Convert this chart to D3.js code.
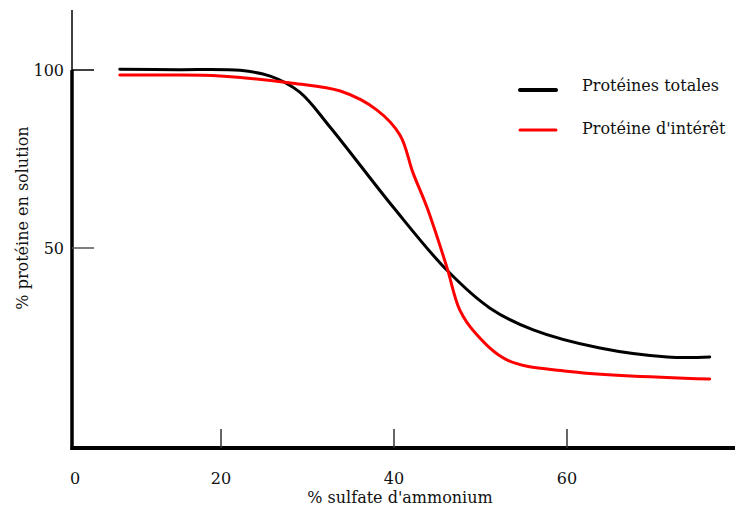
<!DOCTYPE html>
<html>
<head>
<meta charset="utf-8">
<script src="https://cdn.jsdelivr.net/npm/d3@7"></script>
<style>
  body { margin: 0; background: #fff; }
</style>
</head>
<body>
<script>
// data
const total_x = [8.3, 15.0, 22.2, 25.7, 29.1, 32.6, 39.9, 46.1, 51.1, 56.1, 63.8, 71.6, 76.5];
const total_y = [100.2, 100.1, 99.9, 98.3, 93.8, 84.0, 61.5, 43.8, 33.1, 27.0, 21.9, 19.4, 19.4];
const target_x = [8.3, 14.0, 19.9, 28.3, 33.8, 38.0, 40.7, 42.2, 43.8, 46.1, 47.6, 49.4, 53.1, 60.0, 76.5];
const target_y = [98.6, 98.6, 98.3, 96.3, 94.1, 88.8, 81.7, 71.1, 61.5, 44.7, 32.6, 26.1, 18.5, 15.4, 13.2];
const x_ticks = [20, 40, 60];
const x_labels = [0, 20, 40, 60];
const y_ticks = [100, 50];
const series_names = ["Protéines totales", "Protéine d'intérêt"];
const series_colors = ["#000", "#ff0000"];

const WIDTH = 735, HEIGHT = 513;
const axis_left = 72, axis_bottom = 448, axis_top = 10;
const FONT = "DejaVu Serif, Liberation Serif, serif";

const svg = d3.select("body").append("svg")
    .attr("width", WIDTH)
    .attr("height", HEIGHT);

const x = d3.scaleLinear().domain([20, 60]).range([221, 567]);
const y = d3.scaleLinear().domain([50, 100]).range([248, 70]);

// axes
svg.append("line")
    .attr("x1", axis_left).attr("x2", axis_left)
    .attr("y1", axis_top).attr("y2", y(100))
    .attr("stroke", "#000").attr("stroke-width", 1.5);
svg.append("line")
    .attr("x1", axis_left).attr("x2", axis_left)
    .attr("y1", y(100)).attr("y2", axis_bottom + 2)
    .attr("stroke", "#000").attr("stroke-width", 3.5);
svg.append("line")
    .attr("x1", axis_left - 1.5).attr("x2", WIDTH)
    .attr("y1", axis_bottom).attr("y2", axis_bottom)
    .attr("stroke", "#000").attr("stroke-width", 4);

svg.selectAll("line.xtick")
    .data(x_ticks)
    .enter().append("line")
    .attr("class", "xtick")
    .attr("x1", d => x(d)).attr("x2", d => x(d))
    .attr("y1", axis_bottom).attr("y2", axis_bottom - 19)
    .attr("stroke", "#333").attr("stroke-width", 1.5);

svg.selectAll("line.ytick")
    .data(y_ticks)
    .enter().append("line")
    .attr("class", "ytick")
    .attr("x1", axis_left).attr("x2", axis_left + 22)
    .attr("y1", d => y(d)).attr("y2", d => y(d))
    .attr("stroke", d => d === 100 ? "#000" : "#555").attr("stroke-width", 1.5);

const add_text = (sel) => sel
    .attr("fill", "#111")
    .attr("font-family", FONT)
    .attr("font-size", 16);

// the "0" sits at the origin of the axes
svg.selectAll("text.xlabel")
    .data(x_labels)
    .enter().append("text")
    .attr("class", "xlabel")
    .attr("x", d => Math.max(x(d), axis_left + 3))
    .attr("y", 484)
    .attr("text-anchor", "middle")
    .call(add_text)
    .text(d => d);

svg.selectAll("text.ylabel")
    .data(y_ticks)
    .enter().append("text")
    .attr("class", "ylabel")
    .attr("x", 64)
    .attr("y", d => y(d) + 6)
    .attr("text-anchor", "end")
    .call(add_text)
    .text(d => d);

svg.append("text")
    .attr("x", 400).attr("y", 503)
    .attr("text-anchor", "middle")
    .call(add_text)
    .text("% sulfate d'ammonium");

svg.append("text")
    .attr("transform", "translate(28,218) rotate(-90)")
    .attr("text-anchor", "middle")
    .call(add_text)
    .text("% protéine en solution");

// curves
const line = d3.line()
    .x(d => x(d[0]))
    .y(d => y(d[1]))
    .curve(d3.curveCatmullRom.alpha(0.5));

const series = [
    d3.zip(total_x, total_y),
    d3.zip(target_x, target_y)
];

svg.selectAll("path.curve")
    .data(series)
    .enter().append("path")
    .attr("class", "curve")
    .attr("d", line)
    .attr("fill", "none")
    .attr("stroke", (d, i) => series_colors[i])
    .attr("stroke-width", 3)
    .attr("stroke-linecap", "round");

// legend
const legend = svg.selectAll("g.legend")
    .data(series_names)
    .enter().append("g")
    .attr("class", "legend")
    .attr("transform", (d, i) => "translate(520," + (90 + i * 40) + ")");

legend.append("line")
    .attr("x1", 0).attr("x2", 36)
    .attr("stroke", (d, i) => series_colors[i])
    .attr("stroke-width", (d, i) => i === 0 ? 4 : 3)
    .attr("stroke-linecap", "round");

legend.append("text")
    .attr("x", 62).attr("y", (d, i) => i === 0 ? 1 : 4)
    .call(add_text)
    .text(d => d);
</script>
</body>
</html>
